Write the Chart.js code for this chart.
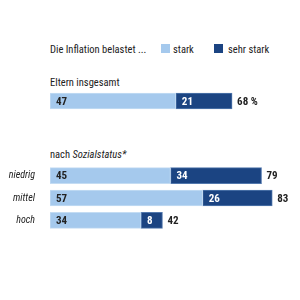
<!DOCTYPE html>
<html>
<head>
<meta charset="utf-8">
<script src="https://cdn.jsdelivr.net/npm/chart.js@4"></script>
<style>
  html, body { margin: 0; padding: 0; background: #fff; }
  #wrap { position: relative; width: 300px; height: 300px; overflow: hidden;
          font-family: "Roboto Condensed", "Liberation Sans Narrow", "DejaVu Sans Condensed", Roboto, sans-serif;
          color: #222; font-size: 10.5px; }
  .txt { position: absolute; white-space: nowrap; line-height: 14px; }
  .sq { position: absolute; width: 9px; height: 9px; }
  canvas { position: absolute; left: 0; }
</style>
</head>
<body>
<div id="wrap">
  <div class="txt" style="left:50px; top:43px;">Die Inflation belastet ...</div>
  <div class="sq" style="left:161px; top:44px; background:#a5c9ed;"></div>
  <div class="txt" style="left:173px; top:43px;">stark</div>
  <div class="sq" style="left:214px; top:44px; background:#1b4482;"></div>
  <div class="txt" style="left:228px; top:43px;">sehr stark</div>
  <div class="txt" style="left:50px; top:76px;">Eltern insgesamt</div>
  <div class="txt" style="left:50px; top:148px;">nach <i>Sozialstatus*</i></div>
  <canvas id="eltern" width="300" height="24" style="top:89px;"></canvas>
  <canvas id="status" width="300" height="68" style="top:164px;"></canvas>
</div>
<script>
const groupLabels = ['Eltern insgesamt'];
const starkAll = [47];
const sehrStarkAll = [21];

const statusLabels = ['niedrig', 'mittel', 'hoch'];
const starkStatus = [45, 57, 34];
const sehrStarkStatus = [34, 26, 8];

const fontStack = '"Roboto Condensed", "Liberation Sans Narrow", "DejaVu Sans Condensed", Roboto, sans-serif';

// writes the segment values inside the bars and the sum behind them
const valueLabels = {
    id: 'valueLabels',
    afterDatasetsDraw(chart, args, opts) {
        const c = chart.ctx;
        c.save();
        c.font = 'bold 11px ' + fontStack;
        c.textBaseline = 'middle';
        c.textAlign = 'left';
        const n = chart.data.labels.length;
        for (let i = 0; i < n; i++) {
            let total = 0, endX = 0, y = 0;
            chart.data.datasets.forEach((ds, d) => {
                const el = chart.getDatasetMeta(d).data[i];
                total += ds.data[i];
                c.fillStyle = d === 0 ? '#222' : '#fff';
                c.fillText(ds.data[i], el.base + 6, el.y + 1);
                endX = el.x; y = el.y;
            });
            c.fillStyle = '#222';
            c.fillText(total + (opts.suffix || ''), endX + 5, y + 1);
        }
        c.restore();
    }
};

function makeChart(id, labels, stark, sehrStark, showAxis, suffix) {
    return new Chart(document.getElementById(id), {
        type: 'bar',
        data: {
            labels: labels,
            datasets: [{
                label: 'stark',
                data: stark,
                backgroundColor: '#a5c9ed',
                borderColor: '#c4dcf3',
                borderWidth: 1,
                borderSkipped: false,
                barThickness: 16
            }, {
                label: 'sehr stark',
                data: sehrStark,
                backgroundColor: '#1b4482',
                borderColor: '#5278ad',
                borderWidth: 1,
                borderSkipped: false,
                barThickness: 16
            }]
        },
        plugins: [valueLabels],
        options: {
            indexAxis: 'y', // horizontal bars
            responsive: false,
            animation: false,
            layout: {
                padding: { left: showAxis ? 0 : 50, right: 9, top: 0.5, bottom: 0.5 }
            },
            scales: {
                x: {
                    stacked: true,
                    min: 0,
                    max: 90,
                    display: false
                },
                y: {
                    stacked: true,
                    display: showAxis,
                    grid: { display: false },
                    border: { display: false },
                    ticks: {
                        padding: 7,
                        color: '#222',
                        font: { family: fontStack, size: 10, style: 'italic' }
                    },
                    afterFit: (s) => {
                        s.width = showAxis ? 50 : 0;
                        s.paddingTop = 0;
                        s.paddingBottom = 0;
                    }
                }
            },
            plugins: {
                legend: { display: false },
                tooltip: { enabled: false },
                valueLabels: { suffix: suffix }
            }
        }
    });
}

makeChart('eltern', groupLabels, starkAll, sehrStarkAll, false, ' %');
makeChart('status', statusLabels, starkStatus, sehrStarkStatus, true, '');
</script>
</body>
</html>
